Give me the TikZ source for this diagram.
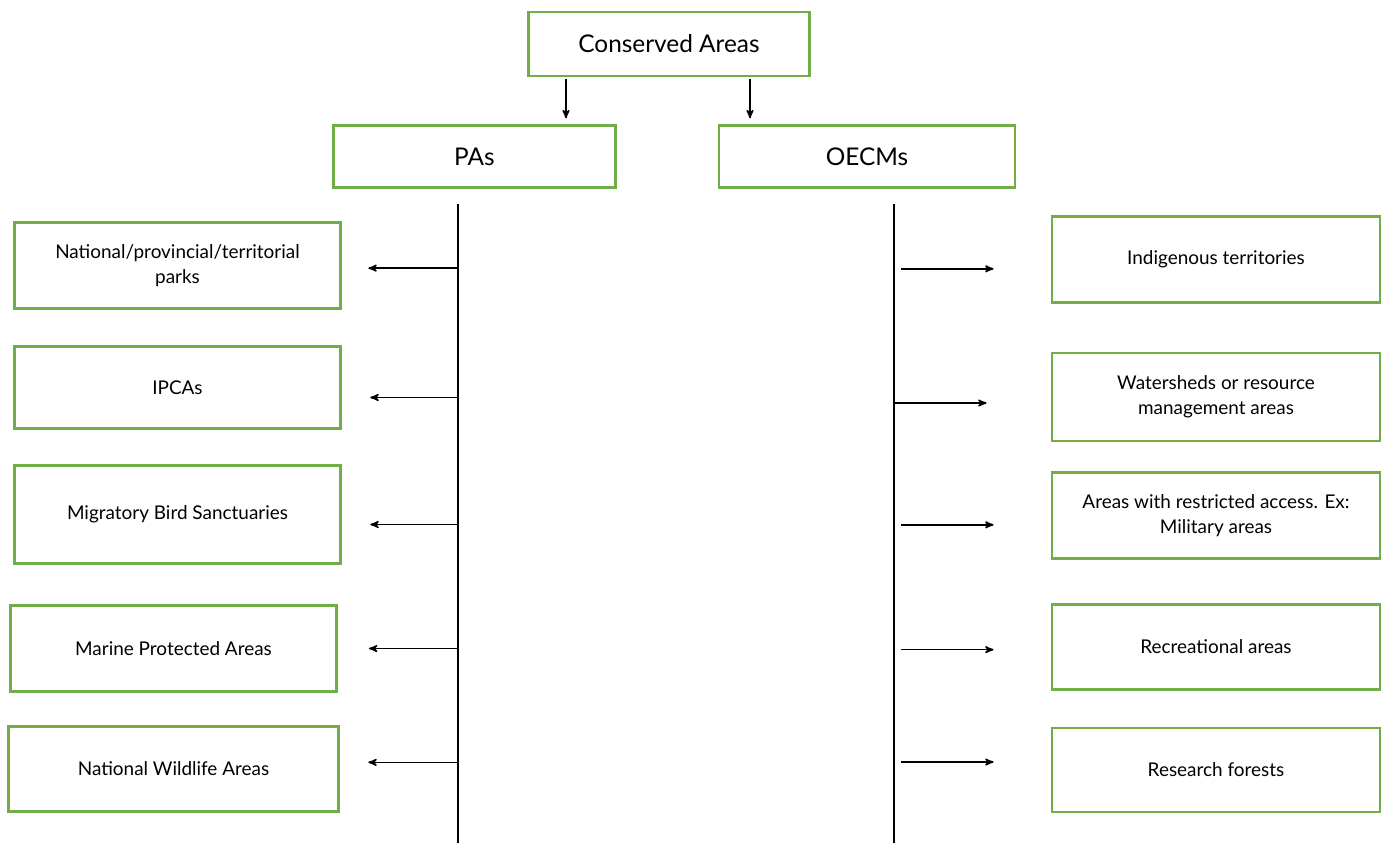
\documentclass[tikz,border=0pt]{standalone}
\usepackage{fontspec}
\setmainfont{Lato}
\usetikzlibrary{arrows}

\begin{document}
\begin{tikzpicture}[%
    x=0.75pt, y=-0.75pt,        % work in pixels of the layout, y going down
    >=stealth',                 % small sharp arrow tips
    ]
% -------------------------------------------------
% Box and connector styles
\definecolor{boxgreen}{RGB}{112,173,71}
\tikzset{
  base/.style={draw=boxgreen, line width=2.2pt, rectangle, align=center,
    inner sep=2pt},
  head/.style={base, font=\fontsize{18.3}{22}\selectfont},
  leaf/.style={base, minimum width=245pt, font=\fontsize{14.2}{18.8}\selectfont},
  trunk/.style={draw, line width=1.5pt},
  norm/.style={->, draw, line width=1.2pt}
}
\useasboundingbox (0,0) rectangle (1388,843);
% -------------------------------------------------
% Top level
\node [head, minimum width=211pt, minimum height=48pt] (ca) at (669,44)
  {Conserved Areas};
\node [head, minimum width=212pt, minimum height=47pt] (pa) at (474.5,156.5)
  {PAs};
\node [head, minimum width=222pt, minimum height=47pt] (oecm) at (867,156.5)
  {OECMs};

\draw [norm, shorten <=1.5pt, shorten >=4pt]
  ([xshift=-77.25pt]ca.south) -- ([xshift=-77.25pt]ca.south |- pa.north);
\draw [norm, shorten <=1.5pt, shorten >=4pt]
  ([xshift=60.75pt]ca.south) -- ([xshift=60.75pt]ca.south |- oecm.north);

% -------------------------------------------------
% PAs column
\coordinate (ptop) at (458,204);
\coordinate (pbot) at (458,843);
\draw [trunk] (ptop) -- (pbot);

\node [leaf, minimum height=65pt] (p1) at (177.5,265.5)
  {National/provincial/territorial\\parks};
\node [leaf, minimum height=62pt] (p2) at (177.5,387.5) {IPCAs};
\node [leaf, minimum height=73pt] (p3) at (177.5,514.5)
  {Migratory Bird Sanctuaries};
\node [leaf, minimum height=65pt] (p4) at (173.5,648.5)
  {Marine Protected Areas};
\node [leaf, minimum width=248pt, minimum height=64pt] (p5) at (173.5,769)
  {National Wildlife Areas};

\draw [norm, shorten >=19.5pt] ([yshift=-2pt]ptop |- p1) -- ([yshift=-2pt]p1.east);
\draw [norm, shorten >=21pt] ([yshift=-7.5pt]ptop |- p2) -- ([yshift=-7.5pt]p2.east);
\draw [norm, shorten >=21pt] ([yshift=-7.5pt]ptop |- p3) -- ([yshift=-7.5pt]p3.east);
\draw [norm, shorten >=23pt] (ptop |- p4) -- (p4.east);
\draw [norm, shorten >=21pt] ([yshift=5pt]ptop |- p5) -- ([yshift=5pt]p5.east);

% -------------------------------------------------
% OECMs column
\coordinate (otop) at (894,204);
\coordinate (obot) at (894,843);
\draw [trunk] (otop) -- (obot);

\node [leaf, minimum width=246pt, minimum height=64pt] (o1) at (1216,259.5)
  {Indigenous territories};
\node [leaf, minimum width=246pt, minimum height=66pt] (o2) at (1216,397)
  {Watersheds or resource\\management areas};
\node [leaf, minimum width=246pt, minimum height=65pt] (o3) at (1216,515.5)
  {Areas with restricted access. Ex:\\Military areas};
\node [leaf, minimum width=246pt, minimum height=64pt] (o4) at (1216,647)
  {Recreational areas};
\node [leaf, minimum width=246pt, minimum height=63pt] (o5) at (1216,770)
  {Research forests};

\draw [norm, shorten <=5pt, shorten >=42.75pt]
  ([yshift=-7pt]otop |- o1) -- ([yshift=-7pt]o1.west);
\draw [norm, shorten >=48pt]
  ([yshift=-4.5pt]otop |- o2) -- ([yshift=-4.5pt]o2.west);
\draw [norm, shorten <=5pt, shorten >=42.75pt]
  ([yshift=-7pt]otop |- o3) -- ([yshift=-7pt]o3.west);
\draw [norm, shorten <=5pt, shorten >=42.75pt]
  ([yshift=-2pt]otop |- o4) -- ([yshift=-2pt]o4.west);
\draw [norm, shorten <=5pt, shorten >=42.75pt]
  ([yshift=6pt]otop |- o5) -- ([yshift=6pt]o5.west);

% -------------------------------------------------
\end{tikzpicture}
\end{document}
